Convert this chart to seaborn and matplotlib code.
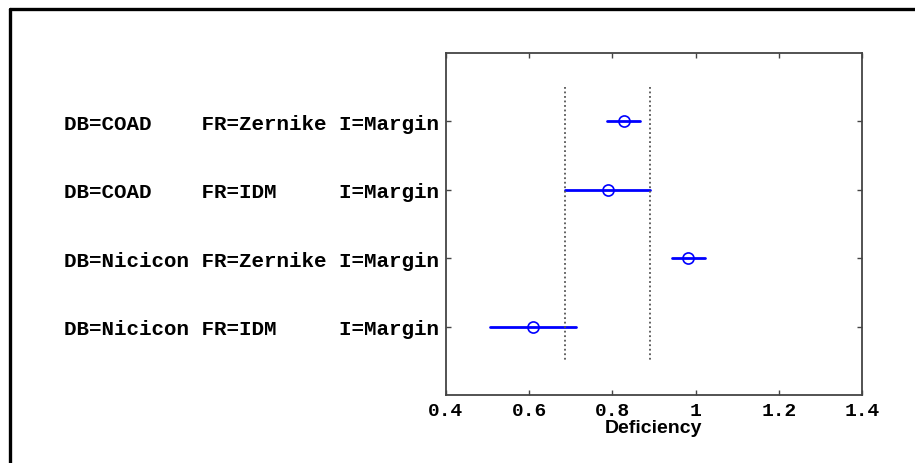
import matplotlib
matplotlib.use("Agg")
import matplotlib.pyplot as plt
from matplotlib.lines import Line2D
import pandas as pd
import seaborn as sns

# group labels, top to bottom
groups = ["DB=COAD    FR=Zernike I=Margin",
          "DB=COAD    FR=IDM     I=Margin",
          "DB=Nicicon FR=Zernike I=Margin",
          "DB=Nicicon FR=IDM     I=Margin"]
# comparison interval for each group (low, estimate, high)
low = [0.787, 0.686, 0.943, 0.506]
est = [0.828, 0.789, 0.982, 0.609]
high = [0.866, 0.890, 1.022, 0.712]
selected = 1  # group whose interval is marked by the dotted lines

xticks = [0.4, 0.6, 0.8, 1.0, 1.2, 1.4]
xticklabels = ["0.4", "0.6", "0.8", "1", "1.2", "1.4"]

rows = []
for g, a, b, c in zip(groups, low, est, high):
    for v in (a, b, c):
        rows.append({"group": g, "value": v})
df = pd.DataFrame(rows)

sns.set_theme(style="ticks")
plt.rcParams["font.family"] = ["Liberation Mono", "DejaVu Sans Mono"]
plt.rcParams["xtick.direction"] = "in"
plt.rcParams["ytick.direction"] = "in"
plt.rcParams["text.color"] = "black"
plt.rcParams["axes.labelcolor"] = "black"
plt.rcParams["xtick.labelcolor"] = "black"
plt.rcParams["ytick.labelcolor"] = "black"

fig = plt.figure(figsize=(9.15, 4.64), dpi=100)
ax = fig.add_axes([0.4874, 0.1466, 0.4547, 0.737])

sns.pointplot(data=df, x="value", y="group", order=groups,
              estimator="median", errorbar=lambda v: (v.min(), v.max()),
              color="#0000ff", linestyle="none", marker="o",
              markersize=8, markerfacecolor="none", markeredgewidth=1.2,
              err_kws={"linewidth": 2.0}, ax=ax)

# dotted reference lines at the selected group's interval
n = len(groups)
ax.vlines([low[selected], high[selected]], -0.5, n - 0.5,
          colors="#555555", linestyles=(0, (1, 1.5)), linewidth=1.3)

ax.set_xlim(0.4, 1.4)
ax.set_ylim(n, -1)
ax.set_xticks(xticks)
ax.set_xticklabels(xticklabels, fontsize=14, fontweight="bold")
ax.set_yticks(range(n))
ax.set_yticklabels(groups, fontsize=15, fontweight="bold")
ax.set_ylabel("")
ax.set_xlabel("Deficiency", family="Liberation Sans", fontsize=14,
              fontweight="bold", labelpad=0, color="black")

for s in ax.spines.values():
    s.set_visible(True)
    s.set_color("#444444")
    s.set_linewidth(1.3)
ax.tick_params(axis="both", which="both", top=True, right=True,
               length=3.5, width=1.0, color="#444444", pad=5,
               labelcolor="black")

# black frame around the figure (top and left edges visible)
fig.add_artist(Line2D([0.0104, 1.0], [0.9795, 0.9795], color="black",
                      linewidth=2.4, transform=fig.transFigure))
fig.add_artist(Line2D([0.0104, 0.0104], [0.0, 0.9795], color="black",
                      linewidth=2.4, transform=fig.transFigure))

fig.savefig("out.png", dpi=100)
